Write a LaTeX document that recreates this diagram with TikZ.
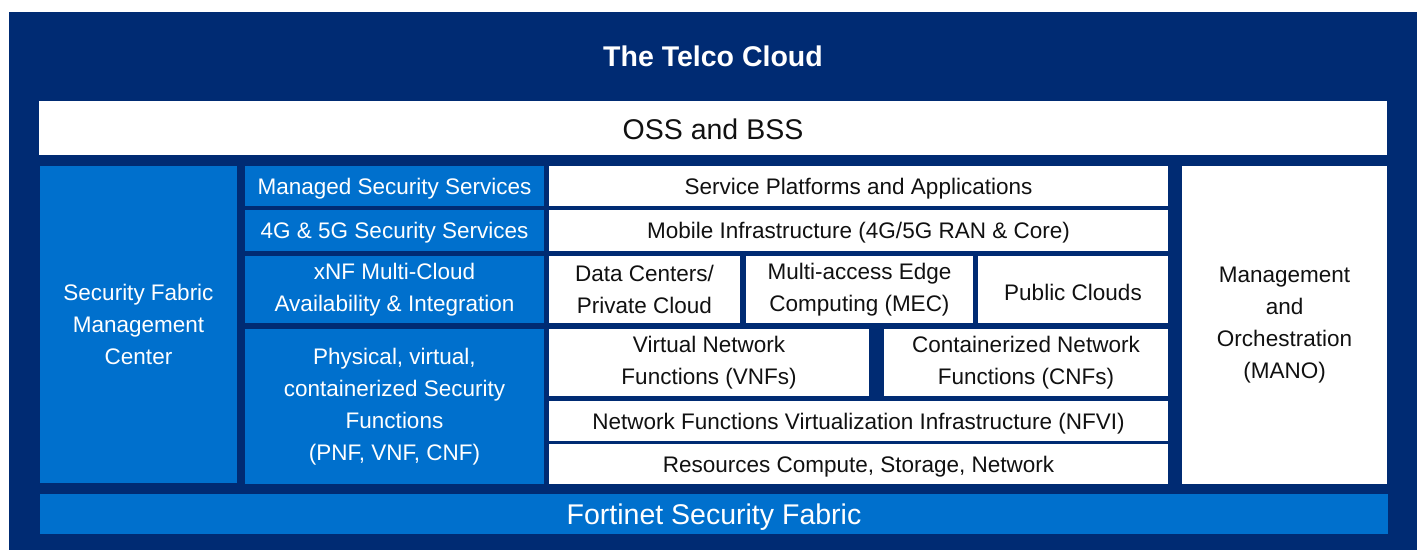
\documentclass[tikz,border=0pt]{standalone}
\usepackage{fontspec}
\setmainfont{Liberation Sans}
\definecolor{navy}{HTML}{002B73}
\definecolor{fblue}{HTML}{0070CD}
\definecolor{ink}{HTML}{111111}
\newcommand\vstr{\vrule width 0pt height 0.96em depth 0.02em\relax}
\newcommand\vstrbig{\vrule width 0pt height 0.89em depth 0.175em\relax}
\tikzset{
  base/.style={inner sep=0pt, outer sep=0pt, align=center, font=\fontsize{22.5}{32}\selectfont,
    execute at begin node={\vstr}, execute at end node={\vstr}},
  wbox/.style={base, fill=white, text=ink},
  bbox/.style={base, fill=fblue, text=white},
  big/.style={font=\fontsize{28.5}{34}\selectfont,
    execute at begin node={\vstrbig}, execute at end node={\vstrbig}},
}
\begin{document}
\begin{tikzpicture}[x=1pt,y=-1pt]
\useasboundingbox (0,0) rectangle (1420,550);
\node[inner sep=0pt, outer sep=0pt, fill=navy, minimum width=1408, minimum height=538] (outer) at (713,281) {};
\node[base, big, text=white, font=\fontsize{28.5}{34}\selectfont\bfseries] (title) at (713,55) {The Telco Cloud};
\node[wbox, big, minimum width=1348, minimum height=54] (oss) at (713,128) {OSS and BSS};
\node[bbox, minimum width=197, minimum height=317] (sfmc) at (138.5,324.5) {Security Fabric\\Management\\Center};
\node[bbox, minimum width=299, minimum height=40] (mss) at (394.5,186) {Managed Security Services};
\node[bbox, minimum width=299, minimum height=41] (g45) at (394.5,230.5) {4G \& 5G Security Services};
\node[bbox, minimum width=299, minimum height=67] (xnf) at (394.5,289.5) {xNF Multi-Cloud\\Availability \& Integration};
\node[bbox, minimum width=299, minimum height=155] (phys) at (394.5,406.5) {Physical, virtual,\\containerized Security\\Functions\\(PNF, VNF, CNF)};
\node[wbox, minimum width=619, minimum height=40] (spa) at (858.5,186) {Service Platforms and Applications};
\node[wbox, minimum width=619, minimum height=41] (mob) at (858.5,230.5) {Mobile Infrastructure (4G/5G RAN \& Core)};
\node[wbox, minimum width=191, minimum height=67] (dc) at (644.5,289.5) {Data Centers/\\Private Cloud};
\node[wbox, minimum width=227, minimum height=67] (mec) at (859.5,289.5) {Multi-access Edge\\Computing (MEC)};
\node[wbox, minimum width=190, minimum height=67] (pub) at (1073,289.5) {Public Clouds};
\node[wbox, minimum width=320, minimum height=67] (vnf) at (709,362.5) {Virtual Network\\Functions (VNFs)};
\node[wbox, minimum width=284, minimum height=67] (cnf) at (1026,362.5) {Containerized Network\\Functions (CNFs)};
\node[wbox, minimum width=619, minimum height=40] (nfvi) at (858.5,421) {Network Functions Virtualization Infrastructure (NFVI)};
\node[wbox, minimum width=619, minimum height=40] (res) at (858.5,464) {Resources Compute, Storage, Network};
\node[wbox, minimum width=205, minimum height=318] (mano) at (1284.5,325) {Management\\and\\Orchestration\\(MANO)};
\node[bbox, big, minimum width=1348, minimum height=40] (fsf) at (714,514) {Fortinet Security Fabric};
\end{tikzpicture}
\end{document}
